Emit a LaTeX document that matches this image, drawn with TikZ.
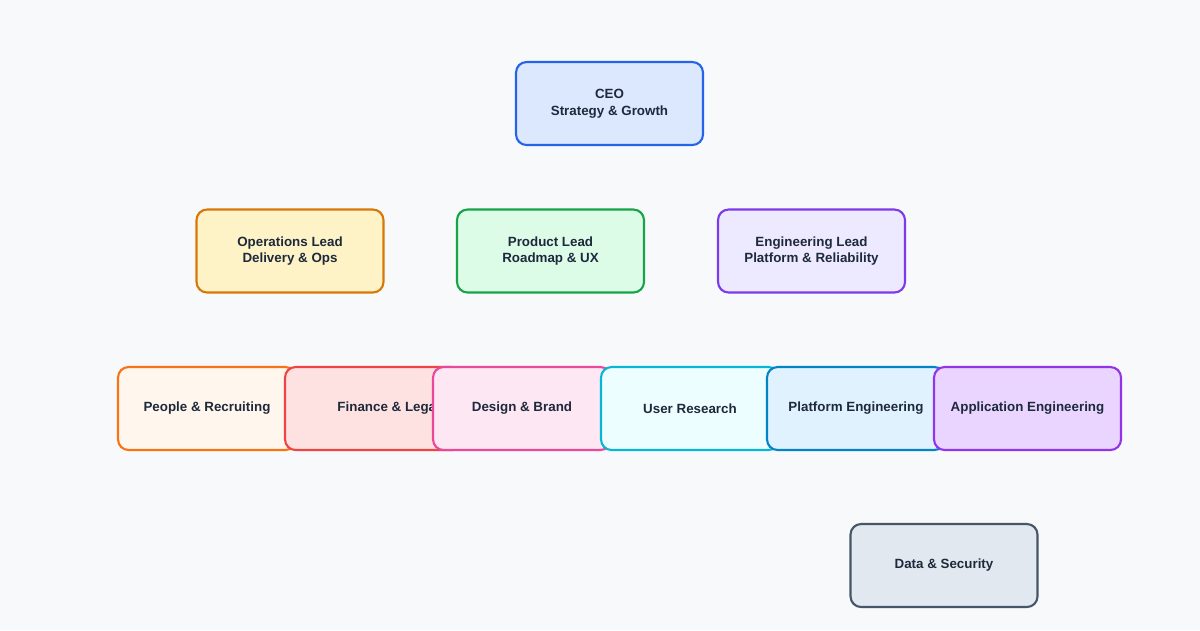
\documentclass[tikz,border=0pt]{standalone}
\usepackage{fontspec}
\setmainfont{Liberation Sans}
\usepackage{xcolor}
\usetikzlibrary{positioning}

\definecolor{bgcol}{HTML}{F8F9FA}
\definecolor{ceoline}{HTML}{2563EB}\definecolor{ceofill}{HTML}{DBE8FD}
\definecolor{opsline}{HTML}{D97706}\definecolor{opsfill}{HTML}{FEF3C7}
\definecolor{prodline}{HTML}{16A34A}\definecolor{prodfill}{HTML}{DCFCE7}
\definecolor{engline}{HTML}{7C3AED}\definecolor{engfill}{HTML}{EDE9FE}
\definecolor{pplline}{HTML}{F97316}\definecolor{pplfill}{HTML}{FFF7ED}
\definecolor{finline}{HTML}{EF4444}\definecolor{finfill}{HTML}{FEE2E2}
\definecolor{desline}{HTML}{EC4899}\definecolor{desfill}{HTML}{FCE7F3}
\definecolor{resline}{HTML}{06B6D4}\definecolor{resfill}{HTML}{ECFEFF}
\definecolor{platline}{HTML}{0284C7}\definecolor{platfill}{HTML}{E0F2FE}
\definecolor{appline}{HTML}{9333EA}\definecolor{appfill}{HTML}{E9D5FF}
\definecolor{dataline}{HTML}{475569}\definecolor{datafill}{HTML}{E2E8F0}
\definecolor{txt}{HTML}{1E293B}

\begin{document}
\begin{tikzpicture}[
    x=0.02cm, y=-0.02cm,
    box/.style={rectangle, draw, rounded corners=6pt, line width=1.2pt, minimum width=3.74cm, minimum height=1.66cm, align=center, text=txt, font=\fontsize{7.6}{9.5}\selectfont\bfseries}
]
    \fill[bgcol] (0,0) rectangle (1200,630);

    \node[box, draw=ceoline, fill=ceofill] (ceo) at (609.5,103.5) {CEO\\Strategy \& Growth};

    \node[box, draw=opsline, fill=opsfill] (ops) at (290,251) {Operations Lead\\Delivery \& Ops};
    \node[box, draw=prodline, fill=prodfill] (product) at (550.5,251) {Product Lead\\Roadmap \& UX};
    \node[box, draw=engline, fill=engfill] (eng) at (811.5,251) {Engineering Lead\\Platform \& Reliability};

    \node[box, draw=pplline, fill=pplfill, minimum width=3.56cm] (people) at (207,408.5) {People \& Recruiting};
    \node[box, draw=finline, fill=finfill, minimum width=3.56cm] (finance) at (374,408.5) {\hspace{2.2em}Finance \& Legal};
    \node[box, draw=desline, fill=desfill, minimum width=3.56cm] (design) at (522,408.5) {Design \& Brand};
    \node[box, draw=resline, fill=resfill, minimum width=3.56cm] (research) at (690,408.5) {User Research};
    \node[box, draw=platline, fill=platfill, minimum width=3.56cm] (platform) at (856,408.5) {Platform Engineering};
    \node[box, draw=appline, fill=appfill] (app) at (1027.5,408.5) {Application Engineering};

    \node[box, draw=dataline, fill=datafill] (data) at (944,565.5) {Data \& Security};
\end{tikzpicture}
\end{document}
